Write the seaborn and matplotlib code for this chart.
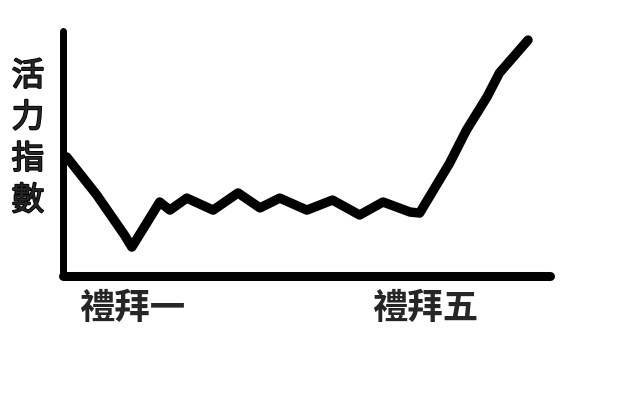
import matplotlib
matplotlib.use("Agg")
import matplotlib.pyplot as plt
import matplotlib.patheffects as pe
import seaborn as sns
import pandas as pd

# Data (x: days, Monday = 0; y: vitality 0-100)
day_pos = [-0.89, -0.48, -0.10, 0.00, 0.38, 0.52, 0.75, 1.11, 1.45, 1.75, 2.02,
           2.39, 2.74, 3.11, 3.43, 3.80, 3.93, 4.34, 4.57, 4.85, 5.02, 5.41]
vitality = [48.6, 33.1, 16.7, 11.8, 30.2, 26.9, 31.8, 26.9, 33.9, 27.8, 31.8,
            26.9, 31.0, 24.9, 30.2, 26.1, 25.7, 46.1, 59.6, 73.1, 82.9, 96.3]
tick_pos = [0, 4]
tick_labels = ["禮拜一", "禮拜五"]
y_label = "活力指數"

sns.set_theme(style="white")
plt.rcParams['font.family'] = ['Noto Sans CJK TC', 'DejaVu Sans']

fig = plt.figure(figsize=(6.25, 4.12), dpi=100)
W, H = 625, 412
ax = fig.add_axes([63 / W, (H - 276) / H, (550 - 63) / W, (276 - 31) / H])

df = pd.DataFrame({"day": day_pos, "vitality": vitality})
sns.lineplot(data=df, x="day", y="vitality", sort=False, ax=ax,
             color="black", linewidth=6.8, solid_capstyle="round",
             solid_joinstyle="round")

ax.set_xlim(-0.94, 5.71)
ax.set_ylim(0, 100)

for side in ["top", "right"]:
    ax.spines[side].set_visible(False)
ax.spines["left"].set_linewidth(5)
ax.spines["bottom"].set_linewidth(6.5)
for side in ["left", "bottom"]:
    ax.spines[side].set_color("black")
    ax.spines[side].set_capstyle("round")

ax.set_xticks(tick_pos)
ax.set_xticklabels(tick_labels, fontsize=25.5, fontweight="bold")
ax.tick_params(axis="x", length=0, pad=11)
ax.set_yticks([])
ax.set_xlabel("")
ax.set_ylabel("")

ax.text(-0.072, 0.56, "\n".join(y_label), transform=ax.transAxes,
        ha="center", va="center", fontsize=23.5, linespacing=1.38,
        path_effects=[pe.withStroke(linewidth=1.3, foreground="black")])

fig.savefig("out.png", dpi=100, facecolor="white")
